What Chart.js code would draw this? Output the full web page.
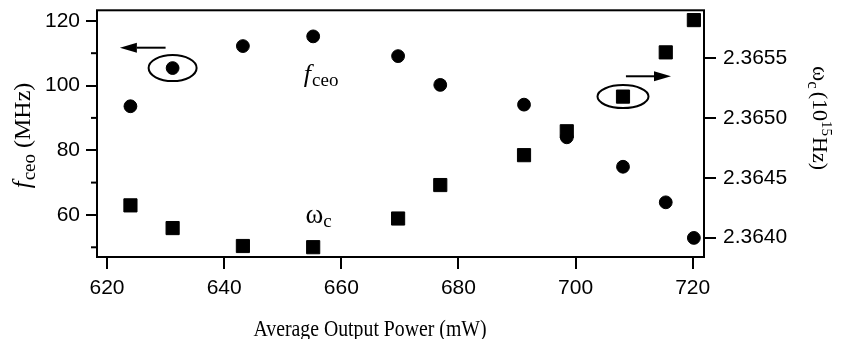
<!DOCTYPE html>
<html>
<head>
<meta charset="utf-8">
<script src="https://cdn.jsdelivr.net/npm/chart.js@4.4.1/dist/chart.umd.min.js"></script>
<style>
  html, body { margin: 0; padding: 0; background: #fff; }
  #wrap { width: 844px; height: 339px; position: relative; }
</style>
</head>
<body>
<div id="wrap"><canvas id="fceoChart"></canvas></div>
<script>
// Average output power (mW) of each measurement
const powerMw = [624.0, 631.2, 643.2, 655.2, 669.7, 676.9, 691.2, 698.5, 708.1, 715.4, 720.2];
// Carrier-envelope offset frequency f_ceo (MHz), left axis
const fceoMhz = [93.6, 105.4, 112.2, 115.2, 109.1, 100.2, 94.1, 84.0, 74.9, 63.9, 52.9];
// Center frequency omega_c (10^15 Hz), right axis
const omegaC = [2.36427, 2.36408, 2.36393, 2.36392, 2.36416, 2.36444, 2.36469, 2.36489, 2.36518, 2.36555, 2.36582];

const xTicks = [620, 640, 660, 680, 700, 720];
const fceoTicks = [50, 60, 70, 80, 90, 100, 110, 120];
const omegaTicks = [2.3640, 2.3645, 2.3650, 2.3655];

const xRange = [618.29, 721.93];
const fceoRange = [47.0, 123.26];
const omegaRange = [2.363838, 2.365902];

const SERIF = '"Liberation Serif", "Times New Roman", serif';
const SANS = '"Liberation Sans", Arial, Helvetica, sans-serif';

// draws text pieces in a row; each piece: [text, font, baseline shift, extra gap]
function drawRun(ctx, pieces, x, y, align, sx) {
    sx = sx || 1;
    let total = 0;
    pieces.forEach(p => { ctx.font = p[1]; total += ctx.measureText(p[0]).width + (p[3] || 0); });
    ctx.save();
    ctx.translate(x, y);
    ctx.scale(sx, 1);
    let cx = align === 'center' ? -total / 2 : 0;
    ctx.textAlign = 'left';
    ctx.textBaseline = 'alphabetic';
    pieces.forEach(p => {
        ctx.font = p[1];
        ctx.fillText(p[0], cx, p[2]);
        cx += ctx.measureText(p[0]).width + (p[3] || 0);
    });
    ctx.restore();
}

function arrow(ctx, x1, y1, x2, y2) {
    const dir = Math.sign(x2 - x1);
    const head = 17;
    ctx.beginPath();
    ctx.moveTo(x1, y1);
    ctx.lineTo(x2 - dir * head, y2);
    ctx.stroke();
    ctx.beginPath();
    ctx.moveTo(x2, y2);
    ctx.lineTo(x2 - dir * head, y2 - 5);
    ctx.lineTo(x2 - dir * head, y2 + 5);
    ctx.closePath();
    ctx.fill();
}

const decorations = {
    id: 'decorations',
    afterDraw(chart) {
        const ctx = chart.ctx;
        const a = chart.chartArea;
        const xs = chart.scales.x, yl = chart.scales.y, yr = chart.scales.y1;
        ctx.save();
        ctx.strokeStyle = '#000';
        ctx.fillStyle = '#000';
        ctx.lineWidth = 2;

        // frame
        ctx.strokeRect(a.left, a.top, a.right - a.left, a.bottom - a.top);

        // minor ticks on the left axis
        fceoTicks.filter(v => v % 20 !== 0).forEach(v => {
            const py = yl.getPixelForValue(v);
            ctx.beginPath();
            ctx.moveTo(a.left - 6, py);
            ctx.lineTo(a.left, py);
            ctx.stroke();
        });

        // circled points with arrows pointing to their axes
        ctx.beginPath();
        ctx.ellipse(xs.getPixelForValue(powerMw[1]), yl.getPixelForValue(fceoMhz[1]), 24, 13, 0, 0, Math.PI * 2);
        ctx.stroke();
        arrow(ctx, xs.getPixelForValue(630.0), yl.getPixelForValue(111.7),
                   xs.getPixelForValue(622.2), yl.getPixelForValue(111.7));

        ctx.beginPath();
        ctx.ellipse(xs.getPixelForValue(powerMw[8]), yr.getPixelForValue(omegaC[8]), 25.5, 11.5, 0, 0, Math.PI * 2);
        ctx.stroke();
        arrow(ctx, xs.getPixelForValue(708.6), yr.getPixelForValue(2.36535),
                   xs.getPixelForValue(716.3), yr.getPixelForValue(2.36535));

        // series labels
        drawRun(ctx, [['f', 'italic 26px ' + SERIF, 0, 1], ['ceo', '19px ' + SERIF, 4]],
            xs.getPixelForValue(653.6), yl.getPixelForValue(101.1), 'left');
        drawRun(ctx, [['\u03c9', '27px ' + SERIF, 0], ['c', '19px ' + SERIF, 4]],
            xs.getPixelForValue(653.9), yl.getPixelForValue(57.4), 'left');

        // axis titles
        drawRun(ctx, [['Average Output Power (mW)', '23px ' + SERIF, 0]], 370, 336, 'center', 0.86);

        ctx.save();
        ctx.translate(30, 135.5);
        ctx.rotate(-Math.PI / 2);
        drawRun(ctx, [['f', 'italic 25px ' + SERIF, 0, 1], ['ceo', '19px ' + SERIF, 5],
                      [' (MHz)', '24px ' + SERIF, 0]], 0, 0, 'center');
        ctx.restore();

        ctx.save();
        ctx.translate(813, 118);
        ctx.rotate(Math.PI / 2);
        drawRun(ctx, [['\u03c9', '23px ' + SERIF, 0], ['c', '17px ' + SERIF, 5, 3],
                      ['(10', '22px ' + SERIF, 0], ['15', '15px ' + SERIF, -9, 1],
                      ['Hz)', '22px ' + SERIF, 0]], 0, 0, 'center');
        ctx.restore();

        ctx.restore();
    }
};

function fixedTicks(values) {
    return axis => { axis.ticks = values.map(v => ({ value: v })); };
}

// keep the plot area fixed: drop the label overhang padding Chart.js adds
function fixSize(prop, size) {
    return s => {
        s[prop] = size;
        s.paddingTop = 0;
        s.paddingBottom = 0;
        s.paddingLeft = 0;
        s.paddingRight = 0;
    };
}

const tickFont = { family: SANS, size: 21 };

new Chart(document.getElementById('fceoChart'), {
    type: 'scatter',
    data: {
        datasets: [
            {
                label: 'fceo',
                data: powerMw.map((p, i) => ({ x: p, y: fceoMhz[i] })),
                yAxisID: 'y',
                pointStyle: 'circle',
                pointRadius: 6.4,
                pointBackgroundColor: '#000',
                pointBorderColor: '#000',
                pointBorderWidth: 1
            },
            {
                label: 'omega_c',
                data: powerMw.map((p, i) => ({ x: p, y: omegaC[i] })),
                yAxisID: 'y1',
                pointStyle: 'rect',
                pointRadius: 9.3,
                pointBackgroundColor: '#000',
                pointBorderColor: '#000',
                pointBorderWidth: 1
            }
        ]
    },
    options: {
        responsive: true,
        maintainAspectRatio: false,
        animation: false,
        layout: { padding: { top: 7, left: 0, right: 0, bottom: 0 } },
        plugins: {
            legend: { display: false },
            tooltip: { enabled: false }
        },
        scales: {
            x: {
                type: 'linear',
                min: xRange[0],
                max: xRange[1],
                afterBuildTicks: fixedTicks(xTicks),
                afterFit: fixSize('height', 82),
                border: { display: false },
                grid: { drawOnChartArea: false, drawTicks: true, tickLength: 12, lineWidth: 2, color: '#000' },
                ticks: { font: tickFont, color: '#000', padding: 7, maxRotation: 0, callback: v => String(v) }
            },
            y: {
                type: 'linear',
                position: 'left',
                min: fceoRange[0],
                max: fceoRange[1],
                afterBuildTicks: fixedTicks(fceoTicks),
                afterFit: fixSize('width', 97),
                border: { display: false },
                grid: {
                    drawOnChartArea: false, drawTicks: true, tickLength: 11, lineWidth: 2,
                    color: c => (c.tick && c.tick.value % 20 === 0) ? '#000' : 'rgba(0,0,0,0)'
                },
                ticks: { font: tickFont, color: '#000', padding: 6, callback: v => (v % 20 === 0 ? String(v) : '') }
            },
            y1: {
                type: 'linear',
                position: 'right',
                min: omegaRange[0],
                max: omegaRange[1],
                afterBuildTicks: fixedTicks(omegaTicks),
                afterFit: fixSize('width', 140),
                border: { display: false },
                grid: { drawOnChartArea: false, drawTicks: true, tickLength: 12, lineWidth: 2, color: '#000' },
                ticks: { font: tickFont, color: '#000', padding: 7, callback: v => v.toFixed(4) }
            }
        }
    },
    plugins: [decorations]
});
</script>
</body>
</html>
